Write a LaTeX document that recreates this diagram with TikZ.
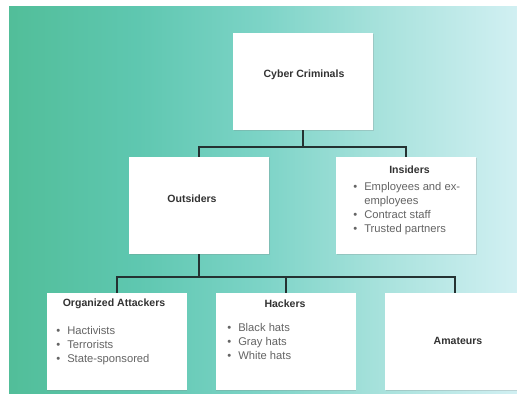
\documentclass[tikz,border=0pt]{standalone}
\usepackage{fontspec}
\setmainfont{Liberation Sans}
\usetikzlibrary{positioning,shadows}
\definecolor{colLine}{RGB}{36,50,50}
\definecolor{colHead}{RGB}{50,50,50}
\definecolor{colItem}{RGB}{100,100,100}
\pgfdeclarehorizontalshading{bgShade}{100bp}{rgb(0bp)=(0.32,0.745,0.60); rgb(25bp)=(0.32,0.745,0.60); rgb(37.5bp)=(0.37,0.78,0.69); rgb(50bp)=(0.49,0.83,0.78); rgb(62.5bp)=(0.67,0.89,0.87); rgb(75bp)=(0.82,0.94,0.95); rgb(100bp)=(0.82,0.94,0.95)}
\newcommand{\itm}[1]{\makebox[8.25pt][l]{\textbullet}#1}

\begin{document}
\begin{tikzpicture}[x=0.75pt, y=-0.75pt,
    every node/.style={font=\fontsize{8.4}{10.5}\selectfont},
    box/.style={fill=white, minimum width=105pt, minimum height=72.75pt, inner sep=0pt,
        drop shadow={shadow xshift=0.4pt, shadow yshift=-1.1pt, opacity=0.25}},
    head/.style={font=\fontsize{7.9}{10.5}\selectfont\bfseries, text=colHead, inner sep=0pt},
    items/.style={anchor=north west, align=left, inner sep=0pt, text=colItem},
    link/.style={draw=colLine, line width=1.5pt}
]
    \useasboundingbox (0,0) rectangle (517,393);
    \clip (0,0) rectangle (517,393);
    \shade[shading=bgShade] (9,6) rectangle (517,393);

    % boxes
    \node[box] (cc) at (303,81.5) {};
    \node[box] (out) at (199,205.5) {};
    \node[box] (ins) at (406,205.5) {};
    \node[box] (org) at (116.5,341.5) {};
    \node[box] (hack) at (285.5,341.5) {};
    \node[box] (ama) at (455,341.5) {};

    % titles
    \node[head] (ccT) at (304,75) {Cyber Criminals};
    \node[head] (outT) at (192,199) {Outsiders};
    \node[head] (insT) at (409.5,170) {Insiders};
    \node[head] (orgT) at (114,304) {Organized Attackers};
    \node[head] (hackT) at (285,304) {Hackers};
    \node[head] (amaT) at (458,341) {Amateurs};

    % bullet lists
    \node[items] (insL) at (353,181.8) {\itm{Employees and ex-}\\\hspace*{8.25pt}employees\\\itm{Contract staff}\\\itm{Trusted partners}};
    \node[items] (orgL) at (56,326) {\itm{Hactivists}\\\itm{Terrorists}\\\itm{State-sponsored}};
    \node[items] (hackL) at (227,323) {\itm{Black hats}\\\itm{Gray hats}\\\itm{White hats}};

    % tree connectors
    \draw[link] (cc.south) -- ++(0,17) coordinate (j1);
    \draw[link] (j1) -| (out.north);
    \draw[link] (j1) -| (ins.north);
    \draw[link] (out.south) -- ++(0,23) coordinate (j2);
    \draw[link] (j2) -| (org.north);
    \draw[link] (j2) -| (hack.north);
    \draw[link] (j2) -| (ama.north);
\end{tikzpicture}
\end{document}
